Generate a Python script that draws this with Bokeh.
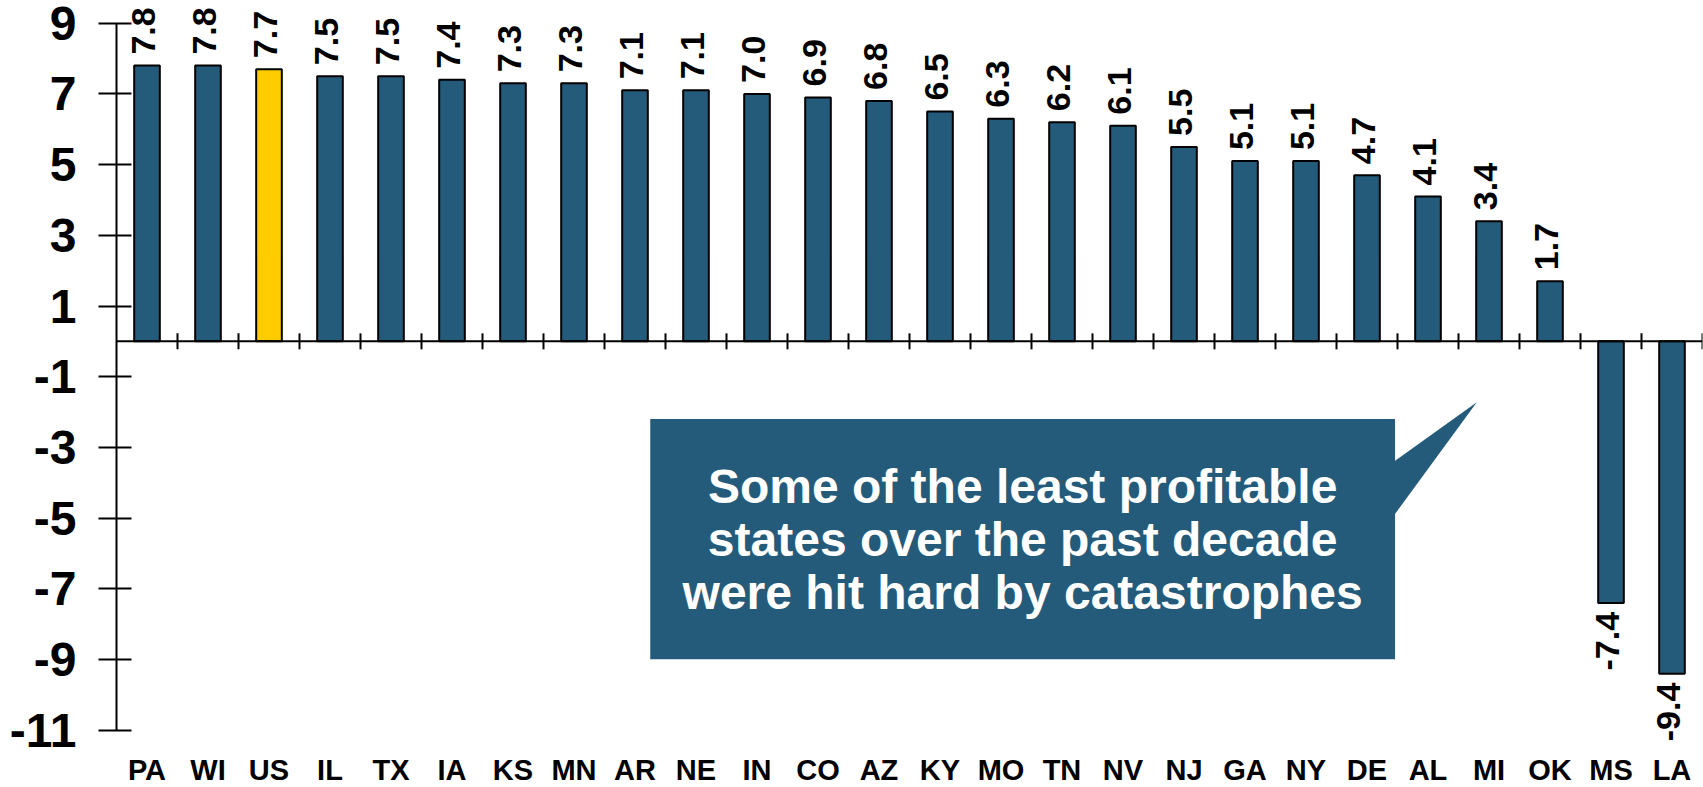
import math
from bokeh.plotting import figure
from bokeh.models import ColumnDataSource, LabelSet, Span, FactorRange, Range1d, FixedTicker
from bokeh.transform import dodge
from bokeh.core.properties import value
from bokeh.embed import file_html
from bokeh.resources import INLINE

# ---------------- data ----------------
states = ["PA", "WI", "US", "IL", "TX", "IA", "KS", "MN", "AR", "NE", "IN", "CO", "AZ",
          "KY", "MO", "TN", "NV", "NJ", "GA", "NY", "DE", "AL", "MI", "OK", "MS", "LA"]
values = [7.8, 7.8, 7.7, 7.5, 7.5, 7.4, 7.3, 7.3, 7.1, 7.1, 7.0, 6.9, 6.8,
          6.5, 6.3, 6.2, 6.1, 5.5, 5.1, 5.1, 4.7, 4.1, 3.4, 1.7, -7.4, -9.4]
highlight = "US"
y_ticks = [-11, -9, -7, -5, -3, -1, 1, 3, 5, 7, 9]
callout_lines = ["Some of the least profitable",
                 "states over the past decade",
                 "were hit hard by catastrophes"]

# ---------------- style / layout ----------------
BLUE = "#245B7A"
YELLOW = "#FFCC00"
FONT = "Liberation Sans"

FRAME_W, FRAME_H = 1586, 787
AXIS_PX = 707                     # pixel height of the -11..9 value axis
TOP_PAD_PX = 22.7                 # frame space above the axis top
y_lo, y_hi = min(y_ticks), max(y_ticks)
px_per_unit = AXIS_PX / (y_hi - y_lo)
bottom_pad_px = FRAME_H - AXIS_PX - TOP_PAD_PX
y_range = Range1d(y_lo - bottom_pad_px / px_per_unit, y_hi + TOP_PAD_PX / px_per_unit)

colors = [YELLOW if s == highlight else BLUE for s in states]
src = ColumnDataSource(dict(state=states, value=values, color=colors))

p = figure(x_range=FactorRange(factors=states, range_padding=0),
           y_range=y_range,
           frame_width=FRAME_W, frame_height=FRAME_H,
           min_border_left=116, min_border_right=1, min_border_top=0, min_border_bottom=0,
           output_backend="svg", toolbar_location=None)
p.outline_line_color = None
p.xgrid.visible = False
p.ygrid.visible = False
p.xaxis.visible = False

# y axis
ya = p.yaxis[0]
ya.bounds = (y_lo, y_hi)
ya.ticker = FixedTicker(ticks=y_ticks)
ya.major_label_overrides = {t: str(t) for t in y_ticks}
ya.minor_tick_line_color = None
ya.major_tick_out = 18
ya.major_tick_in = 15
ya.axis_line_width = 2
ya.major_tick_line_width = 2
ya.major_label_text_font = FONT
ya.major_label_text_font_style = "bold"
ya.major_label_text_font_size = "48px"
ya.major_label_text_color = "black"
ya.major_label_standoff = 22

# bars
p.vbar(x="state", top="value", bottom=0, width=0.42, source=src,
       fill_color="color", line_color="black", line_width=2)

# zero line and category boundary ticks
p.add_layout(Span(location=0, dimension="width", line_color="black", line_width=2))
tick_half = 8 / px_per_unit
p.segment(x0=dodge("state", 0.5, range=p.x_range), x1=dodge("state", 0.5, range=p.x_range),
          y0=-tick_half, y1=tick_half, source=src, line_color="black", line_width=2)

# value labels
pos = [i for i, v in enumerate(values) if v >= 0]
neg = [i for i, v in enumerate(values) if v < 0]
def sub(idx):
    return ColumnDataSource(dict(state=[states[i] for i in idx],
                                 value=[values[i] for i in idx],
                                 label=[f"{values[i]:.1f}" for i in idx]))
common = dict(x="state", y="value", text="label", angle=math.pi / 2,
              text_font=value(FONT), text_font_style="bold", text_font_size="34px",
              text_color="black", text_baseline="middle", x_offset=-3)
p.add_layout(LabelSet(source=sub(pos), text_align="left", y_offset=11, **common))
p.add_layout(LabelSet(source=sub(neg), text_align="right", y_offset=-9, **common))

# category labels along the bottom
p.add_layout(LabelSet(source=src, x="state", y=y_lo, text="state", y_offset=-50,
                      text_font=value(FONT), text_font_style="bold", text_font_size="29px",
                      text_color="black", text_align="center", text_baseline="alphabetic"))

# callout (layout positions in synthetic category units / value units)
box_l, box_r, box_t, box_b = 8.75, 20.96, -2.2, -8.99
p.quad(left=box_l, right=box_r, top=box_t, bottom=box_b, fill_color=BLUE, line_color=None)
p.patch(x=[box_r - 0.05, 22.30, box_r - 0.05], y=[-3.44, -1.72, -5.0],
        fill_color=BLUE, line_color=None)
cx = (box_l + box_r) / 2
cy = (box_t + box_b) / 2
step = 53 / px_per_unit
txt_src = ColumnDataSource(dict(x=[cx] * 3, y=[cy + step, cy, cy - step], t=callout_lines))
p.add_layout(LabelSet(source=txt_src, x="x", y="y", text="t",
                      text_font=value(FONT), text_font_style="bold", text_font_size="48px",
                      text_color="white", text_align="center", text_baseline="middle"))

open("out.html", "w").write(file_html(p, INLINE))
